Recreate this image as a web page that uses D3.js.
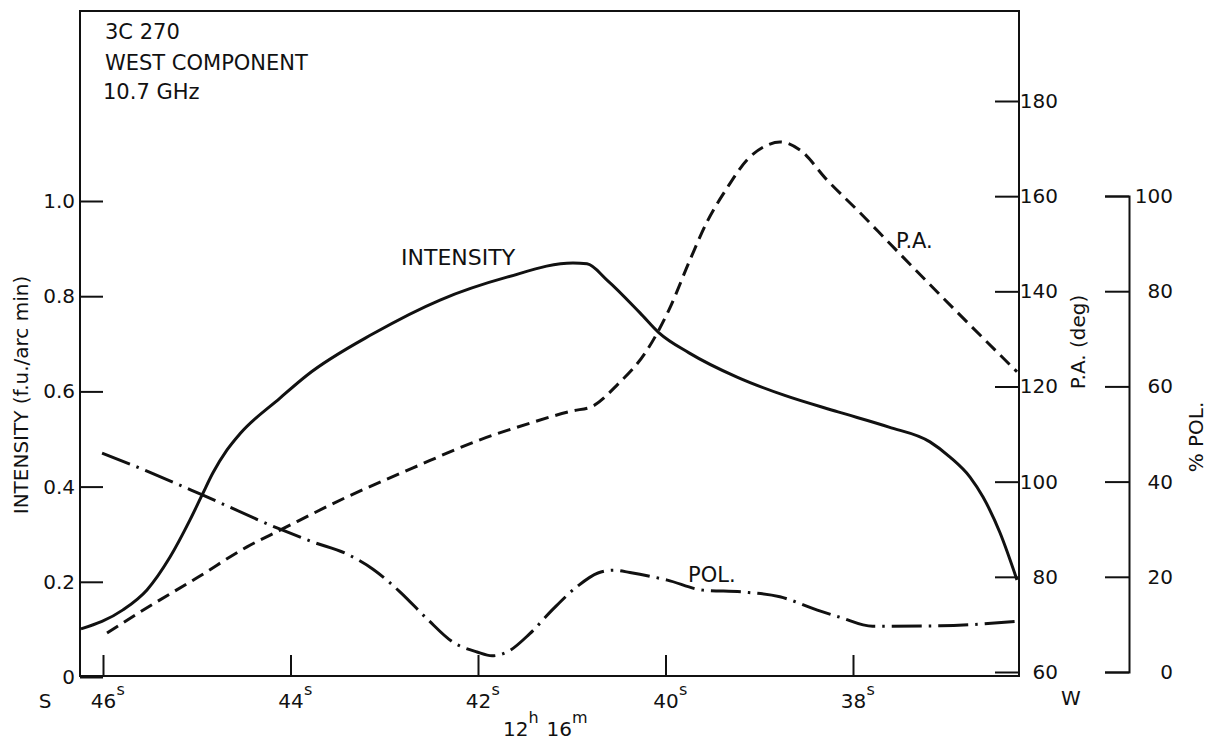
<!DOCTYPE html>
<html><head><meta charset="utf-8">
<script src="https://cdn.jsdelivr.net/npm/d3@7"></script>
<style>
body{margin:0;background:#fff}
text{font-family:"DejaVu Sans",sans-serif;fill:#111}
</style>
</head><body>
<svg id="c" width="1207" height="744"></svg>
<script>
// ---- data ----
const raSeconds = [46, 44, 42, 40, 38];
const intensityTicks = [0, 0.2, 0.4, 0.6, 0.8, 1.0];
const paTicks = [60, 80, 100, 120, 140, 160, 180];
const polTicks = [0, 20, 40, 60, 80, 100];

const intensitySec = [46.235,45.787,45.531,45.285,45.072,44.944,44.827,44.677,44.539,44.112,43.824,43.120,42.405,41.691,40.987,40.837,40.624,40.272,40.069,39.749,39.237,38.736,38.160,37.616,37.179,36.965,36.752,36.613,36.432,36.251];
const intensityVal = [0.101,0.141,0.183,0.252,0.330,0.382,0.429,0.477,0.511,0.586,0.634,0.721,0.792,0.840,0.870,0.868,0.834,0.765,0.723,0.681,0.630,0.592,0.557,0.525,0.494,0.462,0.420,0.378,0.303,0.204];

const paSec = [45.957,45.531,44.997,44.464,44.112,43.397,42.693,41.979,41.445,40.987,40.795,40.507,40.208,39.963,39.739,39.557,39.344,39.131,38.939,38.779,38.565,38.277,37.925,37.605,36.933,36.251];
const paVal = [68.2,73.5,79.8,86.3,89.8,96.8,102.9,108.8,112.3,114.9,115.7,120.5,127.3,136.1,146.6,154.6,161.7,167.6,170.5,171.4,169.7,163.4,156.5,150.0,136.5,123.1];

const polSec = [46.01,45.53,44.94,44.11,43.76,43.40,43.12,42.83,42.54,42.27,42.01,41.85,41.69,41.45,41.20,40.94,40.72,40.55,40.38,39.98,39.60,39.17,38.78,38.38,38.14,37.79,37.07,36.23];
const polVal = [46.0,42.2,37.2,30,27.3,24.8,21.6,16.8,11.1,6.3,4.2,3.4,4.2,8,13.2,18,20.8,21.4,20.9,19.3,17.2,16.8,15.8,13,11.5,9.6,9.7,10.7];

// ---- scales ----
const svg = d3.select("#c");
const x = d3.scaleLinear().domain([46, 38]).range([103, 853]);
const yI = d3.scaleLinear().domain([0, 1]).range([677, 201]);
const yPA = d3.scaleLinear().domain([60, 180]).range([672, 101]);
const yPol = d3.scaleLinear().domain([0, 100]).range([672, 196]);

const FS = 20;

// frame
svg.append("rect").attr("x", 80).attr("y", 11).attr("width", 939).attr("height", 665)
  .attr("fill", "none").attr("stroke", "#111").attr("stroke-width", 2);

// left axis
const gL = svg.append("g").attr("transform", "translate(80,0)")
  .call(d3.axisLeft(yI).tickValues(intensityTicks).tickSize(-23).tickPadding(5)
    .tickFormat(d => d === 0 ? "0" : d3.format(".1f")(d)));
gL.select(".domain").remove();
gL.selectAll("line").attr("stroke", "#111").attr("stroke-width", 2);
gL.selectAll("text").attr("font-size", FS).attr("font-family", "DejaVu Sans").attr("fill", "#111");

// bottom axis
const gB = svg.append("g").attr("transform", "translate(0,676)")
  .call(d3.axisBottom(x).tickValues(raSeconds).tickSize(-21).tickFormat(""));
gB.select(".domain").remove();
gB.selectAll("line").attr("stroke", "#111").attr("stroke-width", 2);
gB.selectAll(".tick").each(function(d) {
  const t = d3.select(this);
  t.select("text").remove();
  t.append("text").attr("x", 0).attr("y", 32).attr("text-anchor", "middle")
    .attr("font-size", FS).text(d);
  t.append("text").attr("x", 13).attr("y", 19).attr("text-anchor", "start")
    .attr("font-size", 16).text("s");
});

// P.A. axis
const gP = svg.append("g").attr("transform", "translate(1019,0)")
  .call(d3.axisRight(yPA).tickValues(paTicks).tickSize(-24));
gP.select(".domain").remove();
gP.selectAll("line").attr("stroke", "#111").attr("stroke-width", 2);
gP.selectAll("text").attr("x", 39).attr("text-anchor", "end").attr("font-size", FS)
  .attr("font-family", "DejaVu Sans").attr("fill", "#111");

// % POL axis
const gQ = svg.append("g").attr("transform", "translate(1129,0)")
  .call(d3.axisRight(yPol).tickValues(polTicks).tickSize(-24).tickSizeOuter(-24));
gQ.select(".domain").attr("stroke", "#111").attr("stroke-width", 2);
gQ.selectAll("line").attr("stroke", "#111").attr("stroke-width", 2);
gQ.selectAll("text").attr("x", 44).attr("text-anchor", "end").attr("font-size", FS)
  .attr("font-family", "DejaVu Sans").attr("fill", "#111");

// curves
const mk = (xs, vs, ys) => d3.line().x((d, i) => x(xs[i])).y((d, i) => ys(vs[i]))
  .curve(d3.curveMonotoneX)(vs);

svg.append("path").attr("d", mk(intensitySec, intensityVal, yI))
  .attr("fill", "none").attr("stroke", "#111").attr("stroke-width", 3);
svg.append("path").attr("d", mk(paSec, paVal, yPA))
  .attr("fill", "none").attr("stroke", "#111").attr("stroke-width", 3)
  .attr("stroke-dasharray", "13,7");
svg.append("path").attr("d", mk(polSec, polVal, yPol))
  .attr("fill", "none").attr("stroke", "#111").attr("stroke-width", 3)
  .attr("stroke-dasharray", "30,7,2.5,7");

// curve labels
svg.append("text").attr("x", 401).attr("y", 265).attr("font-size", 22).text("INTENSITY");
svg.append("text").attr("x", 896).attr("y", 248).attr("font-size", 21).text("P.A.");
svg.append("text").attr("x", 688).attr("y", 582).attr("font-size", 21).text("POL.");

// title
svg.append("text").attr("x", 105).attr("y", 39).attr("font-size", 21).text("3C  270");
svg.append("text").attr("x", 105).attr("y", 70).attr("font-size", 21).text("WEST COMPONENT");
svg.append("text").attr("x", 103).attr("y", 99).attr("font-size", 21).text("10.7 GHz");

// axis titles
svg.append("text").attr("transform", "translate(28,395) rotate(-90)").attr("text-anchor", "middle")
  .attr("font-size", 20).text("INTENSITY (f.u./arc min)");
svg.append("text").attr("transform", "translate(1085,342) rotate(-90)").attr("text-anchor", "middle")
  .attr("font-size", 20).text("P.A. (deg)");
svg.append("text").attr("transform", "translate(1203,437) rotate(-90)").attr("text-anchor", "middle")
  .attr("font-size", 20).text("% POL.");

// direction labels
svg.append("text").attr("x", 45).attr("y", 708).attr("text-anchor", "middle").attr("font-size", FS).text("S");
svg.append("text").attr("x", 1071).attr("y", 705).attr("text-anchor", "middle").attr("font-size", FS).text("W");

// RA label
const ra = svg.append("text").attr("x", 503).attr("y", 736).attr("font-size", FS);
ra.append("tspan").text("12");
ra.append("tspan").attr("dy", -13).attr("font-size", 16).text("h");
ra.append("tspan").attr("dy", 13).attr("dx", 8).text("16");
ra.append("tspan").attr("dy", -13).attr("font-size", 16).text("m");
</script>
</body></html>
